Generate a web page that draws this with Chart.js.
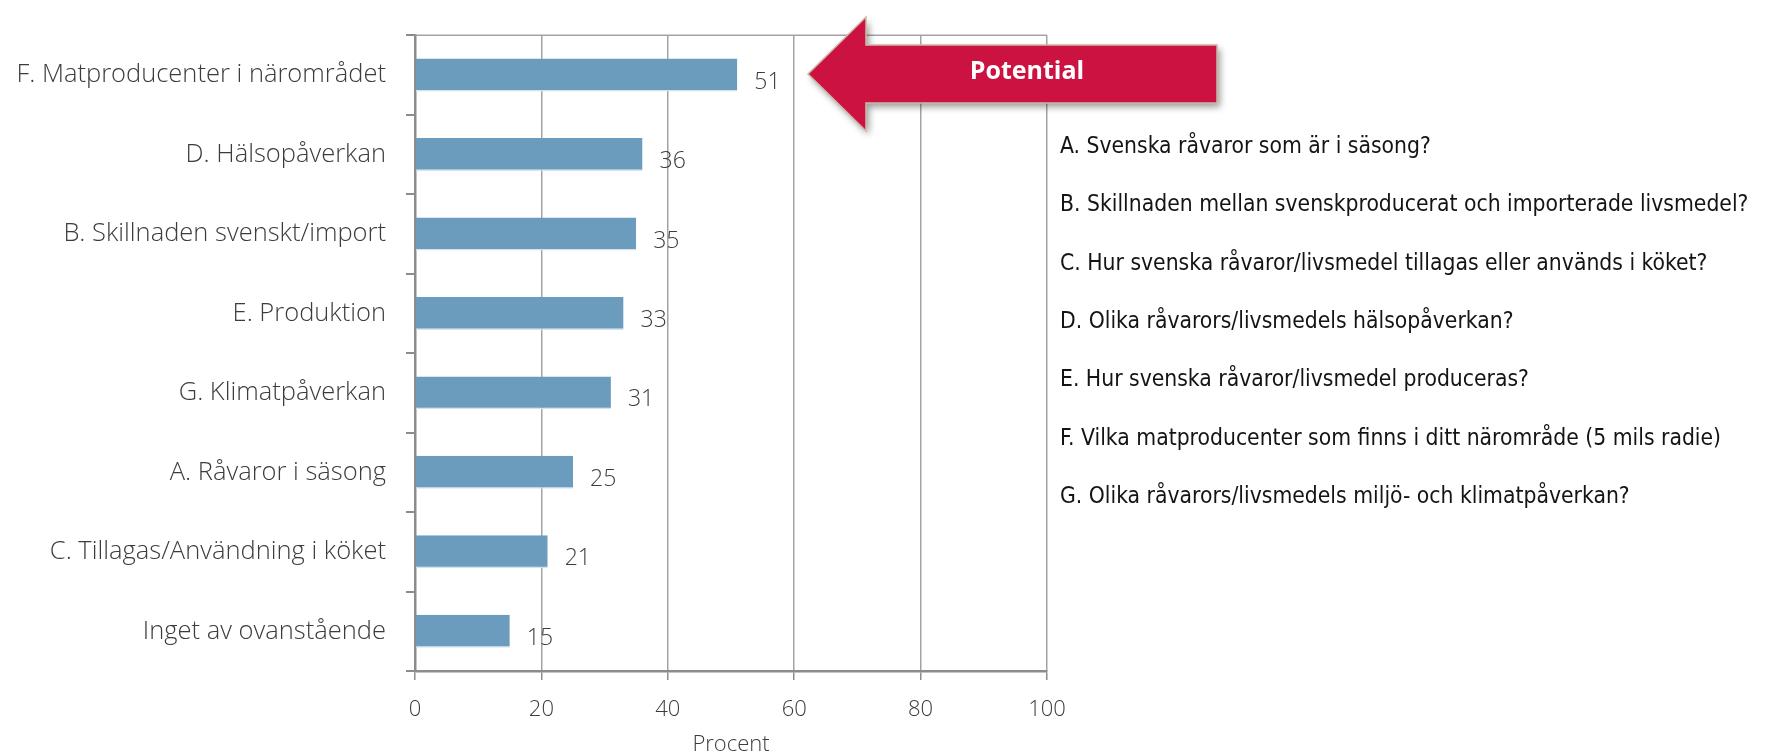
<!DOCTYPE html>
<html>
<head>
<meta charset="utf-8">
<script src="https://cdn.jsdelivr.net/npm/chart.js@4.4.1/dist/chart.umd.min.js"></script>
<style>
  html, body { margin: 0; padding: 0; background: #fff; }
  canvas { display: block; }
</style>
</head>
<body>
<canvas id="chart" width="1769" height="756"></canvas>
<script>
// ===== data =====
const categories = [
  'F. Matproducenter i närområdet',
  'D. Hälsopåverkan',
  'B. Skillnaden svenskt/import',
  'E. Produktion',
  'G. Klimatpåverkan',
  'A. Råvaror i säsong',
  'C. Tillagas/Användning i köket',
  'Inget av ovanstående'
];
const values = [51, 36, 35, 33, 31, 25, 21, 15];
const xTicks = [0, 20, 40, 60, 80, 100];
const axisTitle = 'Procent';
const calloutText = 'Potential';
const notes = [
  'A. Svenska råvaror som är i säsong?',
  'B. Skillnaden mellan svenskproducerat och importerade livsmedel?',
  'C. Hur svenska råvaror/livsmedel tillagas eller används i köket?',
  'D. Olika råvarors/livsmedels hälsopåverkan?',
  'E. Hur svenska råvaror/livsmedel produceras?',
  'F. Vilka matproducenter som finns i ditt närområde (5 mils radie)',
  'G. Olika råvarors/livsmedels miljö- och klimatpåverkan?'
];

const TEXT = '#3c3c3c';
const GRID = '#a3a3a3';
const AXIS = '#8c8c8c';
const LIGHT = "'Open Sans', 'DejaVu Sans', sans-serif";

// top frame line + value labels
const decorPlugin = {
  id: 'decor',
  afterDatasetsDraw(chart) {
    const { ctx, chartArea } = chart;
    ctx.save();
    ctx.strokeStyle = GRID;
    ctx.lineWidth = 1.5;
    ctx.beginPath();
    ctx.moveTo(chartArea.left, chartArea.top);
    ctx.lineTo(chartArea.right, chartArea.top);
    ctx.stroke();

    ctx.fillStyle = TEXT;
    ctx.font = `300 23px ${LIGHT}`;
    ctx.textAlign = 'left';
    ctx.textBaseline = 'middle';
    chart.getDatasetMeta(0).data.forEach((bar, i) => {
      ctx.fillText(String(values[i]), bar.x + 17, bar.y + 7);
    });
    ctx.restore();
  }
};

// red arrow callout pointing at the top bar
const calloutPlugin = {
  id: 'callout',
  afterDraw(chart) {
    const { ctx } = chart;
    const yc = chart.getDatasetMeta(0).data[0].y - 1;
    const tipX = 808, headX = 866, endX = 1217;
    const headH = 57, shaftH = 29;
    ctx.save();
    ctx.beginPath();
    ctx.moveTo(tipX, yc);
    ctx.lineTo(headX, yc - headH);
    ctx.lineTo(headX, yc - shaftH);
    ctx.lineTo(endX, yc - shaftH);
    ctx.lineTo(endX, yc + shaftH);
    ctx.lineTo(headX, yc + shaftH);
    ctx.lineTo(headX, yc + headH);
    ctx.closePath();
    ctx.shadowColor = 'rgba(0,0,0,0.4)';
    ctx.shadowBlur = 7;
    ctx.shadowOffsetX = 3;
    ctx.shadowOffsetY = 4;
    ctx.fillStyle = '#cc1241';
    ctx.fill();
    ctx.shadowColor = 'transparent';
    ctx.strokeStyle = '#cdb9a8';
    ctx.lineWidth = 1.5;
    ctx.stroke();

    ctx.fillStyle = '#fff';
    ctx.font = `bold 25px 'Open Sans', sans-serif`;
    ctx.textAlign = 'center';
    ctx.textBaseline = 'middle';
    ctx.fillText(calloutText, 1027, yc - 2);
    ctx.restore();
  }
};

// explanation list on the right
const notesPlugin = {
  id: 'notes',
  afterDraw(chart) {
    const { ctx } = chart;
    ctx.save();
    ctx.fillStyle = '#141414';
    ctx.font = `22.7px 'Liberation Sans Narrow', 'DejaVu Sans Condensed', sans-serif`;
    ctx.textAlign = 'left';
    ctx.textBaseline = 'middle';
    notes.forEach((t, i) => ctx.fillText(t, 1060, 147 + i * 58.4));
    ctx.restore();
  }
};

new Chart(document.getElementById('chart'), {
  type: 'bar',
  data: {
    labels: categories,
    datasets: [{
      data: values,
      backgroundColor: '#6b9bbd',
      borderColor: '#d3e2ec',
      borderWidth: { top: 0, right: 0, bottom: 1.5, left: 0 },
      borderSkipped: false,
      barPercentage: 0.415,
      categoryPercentage: 1
    }]
  },
  options: {
    indexAxis: 'y',
    responsive: false,
    animation: false,
    devicePixelRatio: 1,
    layout: { padding: { left: 0, right: 722, top: 26, bottom: 0 } },
    plugins: { legend: { display: false }, tooltip: { enabled: false } },
    scales: {
      x: {
        min: 0,
        max: 100,
        afterBuildTicks: s => { s.ticks = xTicks.map(v => ({ value: v })); },
        afterFit: s => { s.height = 85; },
        grid: { color: GRID, lineWidth: 1.5, tickLength: 9, tickColor: AXIS },
        border: { color: AXIS, width: 2.5 },
        ticks: { color: TEXT, padding: 17, font: { family: LIGHT, size: 22, weight: 300 } },
        title: {
          display: true, text: axisTitle, color: TEXT,
          padding: { top: 0, bottom: 0 },
          font: { family: LIGHT, size: 22, weight: 300, lineHeight: 1 }
        }
      },
      y: {
        afterFit: s => { s.width = 415; },
        grid: { drawOnChartArea: false, color: AXIS, lineWidth: 2, tickLength: 9 },
        border: { color: AXIS, width: 2.5 },
        ticks: { color: TEXT, padding: 20, font: { family: LIGHT, size: 25.5, weight: 300 } }
      }
    }
  },
  plugins: [decorPlugin, calloutPlugin, notesPlugin]
});
</script>
</body>
</html>
